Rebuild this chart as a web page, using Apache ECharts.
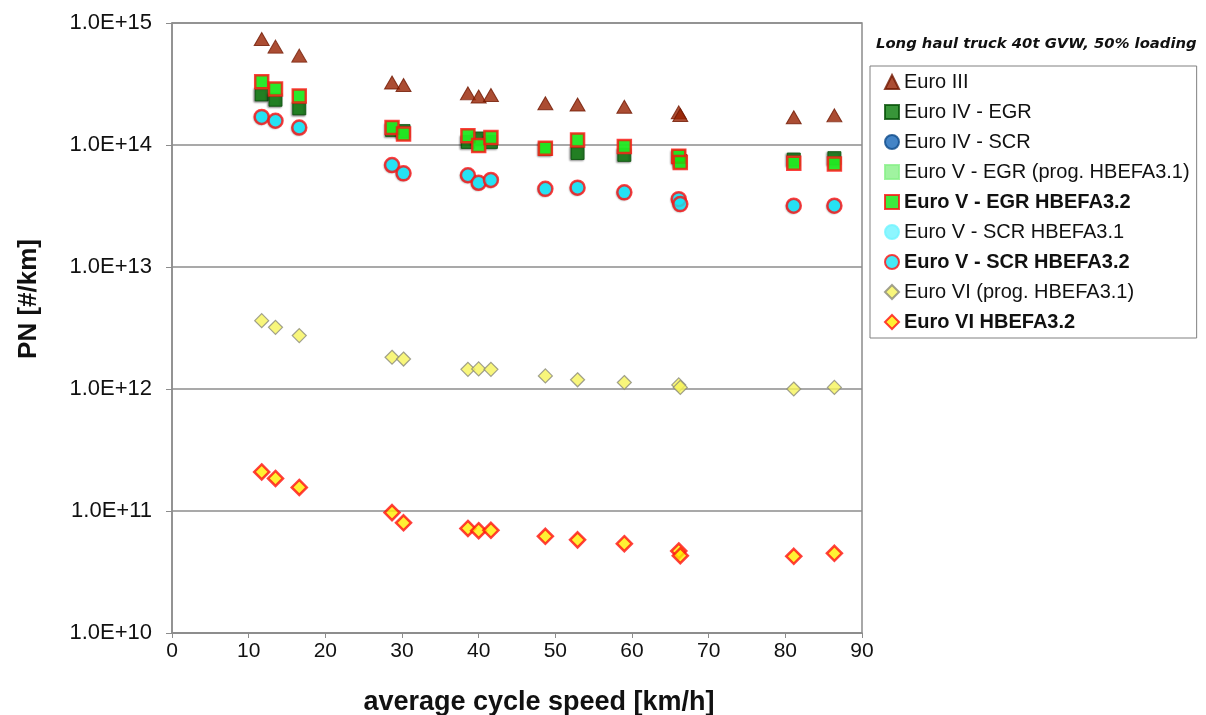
<!DOCTYPE html>
<html lang="en">
  <head>
    <meta charset="UTF-8" />
    <title>PN long haul truck</title>
    <script src="https://cdn.jsdelivr.net/npm/echarts@6/dist/echarts.min.js"></script>
  </head>
  <style>
    html,
    body {
      margin: 0;
      padding: 0;
      background: #fff;
    }
    #echart {
      width: 1206px;
      height: 715px;
    }
  </style>
  <body>
    <div id="echart"></div>
  </body>
  <script>
    // average cycle speed [km/h]
    const speed = [11.7, 13.5, 16.6, 28.7, 30.2, 38.6, 40.0, 41.6, 48.7, 52.9, 59.0, 66.1, 66.3, 81.1, 86.4];

    // PN [#/km]
    const euro3 = [7.4e14, 6.4e14, 5.4e14, 3.25e14, 3.1e14, 2.65e14, 2.5e14, 2.57e14, 2.2e14, 2.15e14, 2.06e14, 1.85e14, 1.76e14, 1.69e14, 1.75e14];
    const euro4Egr = [2.6e14, 2.35e14, 2.0e14, 1.33e14, 1.3e14, 1.06e14, 1.13e14, 1.06e14, 9.3e13, 8.6e13, 8.3e13, 8.0e13, 7.4e13, 7.6e13, 7.8e13];
    const euro4Scr = [1.7e14, 1.58e14, 1.39e14, 6.85e13, 5.86e13, 5.65e13, 4.9e13, 5.17e13, 4.37e13, 4.47e13, 4.09e13, 3.6e13, 3.28e13, 3.18e13, 3.18e13];
    const euro5EgrProg = [3.3e14, 2.88e14, 2.52e14, 1.39e14, 1.23e14, 1.19e14, 9.9e13, 1.15e14, 9.4e13, 1.1e14, 9.7e13, 8.1e13, 7.2e13, 7.1e13, 7.0e13];
    const euro5Egr32 = [3.3e14, 2.88e14, 2.52e14, 1.39e14, 1.23e14, 1.19e14, 9.9e13, 1.15e14, 9.4e13, 1.1e14, 9.7e13, 8.1e13, 7.2e13, 7.1e13, 7.0e13];
    const euro5Scr31 = [1.7e14, 1.58e14, 1.39e14, 6.85e13, 5.86e13, 5.65e13, 4.9e13, 5.17e13, 4.37e13, 4.47e13, 4.09e13, 3.6e13, 3.28e13, 3.18e13, 3.18e13];
    const euro5Scr32 = [1.7e14, 1.58e14, 1.39e14, 6.85e13, 5.86e13, 5.65e13, 4.9e13, 5.17e13, 4.37e13, 4.47e13, 4.09e13, 3.6e13, 3.28e13, 3.18e13, 3.18e13];
    const euro6Prog = [3.63e12, 3.2e12, 2.74e12, 1.82e12, 1.76e12, 1.45e12, 1.46e12, 1.45e12, 1.28e12, 1.19e12, 1.13e12, 1.08e12, 1.03e12, 1.0e12, 1.03e12];
    const euro6V32 = [2.09e11, 1.85e11, 1.56e11, 9.7e10, 8.0e10, 7.2e10, 6.9e10, 6.95e10, 6.2e10, 5.8e10, 5.4e10, 4.7e10, 4.3e10, 4.25e10, 4.5e10];

    const xTicks = [0, 10, 20, 30, 40, 50, 60, 70, 80, 90];

    const pairs = (vals) => vals.map((v, i) => [speed[i], v]);
    const font = "Liberation Sans";
    const shadow = { shadowColor: "rgba(0,0,0,0.55)", shadowBlur: 2, shadowOffsetX: -1, shadowOffsetY: 1 };

    const series = [
      { name: "Euro III", symbol: "triangle", symbolSize: [15, 13], vals: euro3,
        itemStyle: { color: "#962000", borderColor: "#701800", borderWidth: 1 } },
      { name: "Euro IV - EGR", symbol: "rect", symbolSize: 13, vals: euro4Egr,
        itemStyle: { color: "#067a08", borderColor: "#044f05", borderWidth: 1, ...shadow } },
      { name: "Euro IV - SCR", symbol: "circle", symbolSize: 13, vals: euro4Scr,
        itemStyle: { color: "#1565b8", borderColor: "#0d4a8a", borderWidth: 1, ...shadow } },
      { name: "Euro V - EGR (prog. HBEFA3.1)", symbol: "rect", symbolSize: 13, vals: euro5EgrProg,
        itemStyle: { color: "#88f088", borderColor: "#88f088", borderWidth: 1 } },
      { name: "Euro V - EGR HBEFA3.2", symbol: "rect", symbolSize: 13, vals: euro5Egr32, bold: true,
        itemStyle: { color: "#0ee60e", borderColor: "#ff1010", borderWidth: 2.5 } },
      { name: "Euro V - SCR HBEFA3.1", symbol: "circle", symbolSize: 13, vals: euro5Scr31,
        itemStyle: { color: "#70f4ff", borderColor: "#70f4ff", borderWidth: 1 } },
      { name: "Euro V - SCR HBEFA3.2", symbol: "circle", symbolSize: 14, vals: euro5Scr32, bold: true,
        itemStyle: { color: "#16e4f4", borderColor: "#ff1010", borderWidth: 2.5 } },
      { name: "Euro VI (prog. HBEFA3.1)", symbol: "diamond", symbolSize: 14, vals: euro6Prog,
        itemStyle: { color: "#f6f45a", borderColor: "#8a8a7a", borderWidth: 1.2 } },
      { name: "Euro VI HBEFA3.2", symbol: "diamond", symbolSize: 15, vals: euro6V32, bold: true,
        itemStyle: { color: "#ffee00", borderColor: "#ff1010", borderWidth: 2.5 } },
    ];

    const chart = echarts.init(document.getElementById("echart"));
    var option = {
      backgroundColor: "#fff",
      animation: false,
      title: {
        text: "Long haul truck 40t GVW, 50% loading",
        left: 876,
        top: 37,
        padding: 0,
        textStyle: { fontFamily: "DejaVu Sans", fontStyle: "italic", fontWeight: "bold", fontSize: 14.8, color: "#111" },
      },
      legend: {
        orient: "vertical",
        left: 870,
        top: 66,
        padding: [6, 7, 6, 14],
        itemGap: 10,
        itemWidth: 14,
        itemHeight: 14,
        borderColor: "#808080",
        borderWidth: 1,
        textStyle: { fontFamily: font, fontSize: 20, color: "#111" },
        data: series.map((s) => ({ name: s.name, textStyle: { fontWeight: s.bold ? "bold" : "normal" } })),
      },
      grid: {
        left: 172,
        right: 344,
        top: 23,
        bottom: 82,
        outerBoundsMode: "none",
        show: true,
        borderColor: "#8c8c8c",
        borderWidth: 1.5,
      },
      xAxis: {
        type: "value",
        min: 0,
        max: 90,
        interval: 10,
        name: "average cycle speed [km/h]",
        nameLocation: "middle",
        nameGap: 56,
        nameTextStyle: { fontFamily: font, fontSize: 27, fontWeight: "bold", color: "#111", padding: [0, 0, 0, 44] },
        axisLine: { lineStyle: { color: "#8c8c8c", width: 1.5 } },
        axisTick: { length: 5, lineStyle: { color: "#8c8c8c" } },
        axisLabel: { fontFamily: font, fontSize: 21, color: "#111", margin: 8,
          formatter: (v) => (xTicks.includes(v) ? String(v) : "") },
        splitLine: { show: false },
      },
      yAxis: {
        type: "log",
        logBase: 10,
        min: 1e10,
        max: 1e15,
        name: "PN [#/km]",
        nameLocation: "middle",
        nameGap: 130,
        nameTextStyle: { fontFamily: font, fontSize: 26, fontWeight: "bold", color: "#111", padding: [0, 0, 0, 58] },
        axisLine: { lineStyle: { color: "#8c8c8c", width: 1.5 } },
        axisTick: { length: 6, lineStyle: { color: "#8c8c8c" } },
        axisLabel: {
          fontFamily: font,
          fontSize: 22,
          color: "#111",
          margin: 20,
          formatter: (v) => "1.0E+" + Math.round(Math.log10(v)),
        },
        splitLine: { show: true, lineStyle: { color: "#8c8c8c", width: 1.5 } },
      },
      series: series.map((s) => ({
        name: s.name,
        type: "scatter",
        symbol: s.symbol,
        symbolSize: s.symbolSize,
        itemStyle: s.itemStyle,
        data: pairs(s.vals),
      })),
    };
    chart.setOption(option);
  </script>
</html>
